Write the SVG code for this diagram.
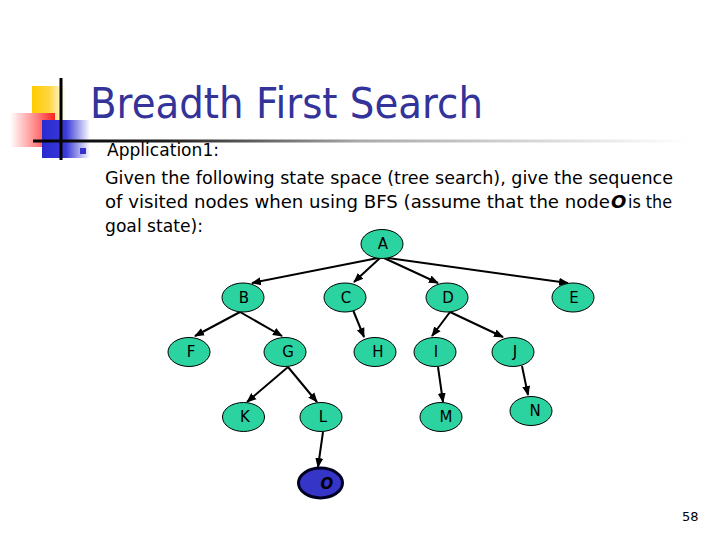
<svg xmlns="http://www.w3.org/2000/svg" width="720" height="540" viewBox="0 0 720 540">
<defs>
<linearGradient id="gy" x1="0" y1="0" x2="1" y2="0"><stop offset="0" stop-color="#ffcc00"/><stop offset="0.5" stop-color="#ffd640"/><stop offset="1" stop-color="#ffffff"/></linearGradient>
<linearGradient id="gr" x1="0" y1="0" x2="1" y2="0"><stop offset="0" stop-color="#ffffff"/><stop offset="0.6" stop-color="#ff8080"/><stop offset="1" stop-color="#ff2020"/></linearGradient>
<linearGradient id="gb" x1="0" y1="0" x2="1" y2="0"><stop offset="0" stop-color="#2a2ad0"/><stop offset="0.5" stop-color="#3a3ad8"/><stop offset="1" stop-color="#ffffff"/></linearGradient>
<linearGradient id="gl" gradientUnits="userSpaceOnUse" x1="33" y1="0" x2="690" y2="0"><stop offset="0" stop-color="#000000"/><stop offset="0.2" stop-color="#202020"/><stop offset="0.5" stop-color="#aaaaaa"/><stop offset="1" stop-color="#ffffff"/></linearGradient>
<marker id="arr" markerUnits="userSpaceOnUse" markerWidth="10" markerHeight="10" viewBox="0 0 10 10" refX="9" refY="5" orient="auto"><path d="M0,1 L10,5 L0,9 z" fill="#000"/></marker>
</defs>
<style>
.n ellipse{fill:#2ad3a0;stroke:#000;stroke-width:1}
.n text{font-family:"DejaVu Sans",Verdana,sans-serif;font-size:15px;fill:#000;text-anchor:middle}
.e line{stroke:#000;stroke-width:2;marker-end:url(#arr)}
.b{font-family:"DejaVu Sans",Tahoma,sans-serif;font-size:18px;fill:#000}
</style>
<rect width="720" height="540" fill="#fff"/>
<g id="logo">
<rect x="32" y="86" width="34" height="34" fill="url(#gy)"/>
<rect x="10" y="113" width="45" height="34" fill="url(#gr)"/>
<rect x="42" y="120" width="48" height="38" fill="url(#gb)"/>
<line x1="61" y1="78" x2="61" y2="160" stroke="#000" stroke-width="3"/>
<line x1="33" y1="141" x2="690" y2="141" stroke="url(#gl)" stroke-width="3"/>
</g>
<text x="90" y="118" font-family="DejaVu Sans,Tahoma,sans-serif" font-size="42" fill="#333399" textLength="393" lengthAdjust="spacingAndGlyphs">Breadth First Search</text>
<rect x="80" y="148" width="6" height="6" fill="#3333cc"/>
<text class="b" x="107" y="156" textLength="112" lengthAdjust="spacingAndGlyphs">Application1:</text>
<text class="b" x="105" y="184" textLength="568" lengthAdjust="spacingAndGlyphs">Given the following state space (tree search), give the sequence</text>
<text class="b" x="105" y="208" textLength="505" lengthAdjust="spacingAndGlyphs">of visited nodes when using BFS (assume that the node</text>
<text class="b" x="611" y="208" font-weight="bold" font-style="italic">O</text>
<text class="b" x="628" y="208" textLength="44" lengthAdjust="spacingAndGlyphs">is the</text>
<text class="b" x="105" y="232" textLength="98" lengthAdjust="spacingAndGlyphs">goal state):</text>
<g class="e" id="edges">
<line x1="378" y1="258" x2="252" y2="283"/>
<line x1="380" y1="258" x2="354" y2="282"/>
<line x1="384" y1="258" x2="438" y2="283"/>
<line x1="388" y1="258" x2="568" y2="283"/>
<line x1="240" y1="312" x2="195" y2="336"/>
<line x1="240" y1="312" x2="282" y2="336"/>
<line x1="353" y1="310" x2="364" y2="337"/>
<line x1="450" y1="312" x2="432" y2="336"/>
<line x1="450" y1="312" x2="503" y2="337"/>
<line x1="288" y1="367" x2="247" y2="402"/>
<line x1="288" y1="367" x2="317" y2="402"/>
<line x1="438" y1="367" x2="443" y2="402"/>
<line x1="522" y1="366" x2="528" y2="395"/>
<line x1="323" y1="432" x2="318" y2="467"/>
</g>
<g class="n" id="A"><ellipse cx="382" cy="244" rx="21" ry="14.5"/><text x="383" y="249">A</text></g>
<g class="n" id="B"><ellipse cx="243" cy="297.5" rx="21" ry="14.5"/><text x="244" y="303">B</text></g>
<g class="n" id="C"><ellipse cx="345" cy="297.5" rx="21" ry="14.5"/><text x="346" y="303">C</text></g>
<g class="n" id="D"><ellipse cx="447" cy="297.5" rx="21" ry="14.5"/><text x="448" y="303">D</text></g>
<g class="n" id="E"><ellipse cx="573" cy="297.5" rx="21" ry="14.5"/><text x="574" y="303">E</text></g>
<g class="n" id="F"><ellipse cx="189" cy="352" rx="21" ry="14.5"/><text x="191" y="357">F</text></g>
<g class="n" id="G"><ellipse cx="285" cy="352" rx="21" ry="14.5"/><text x="288" y="357">G</text></g>
<g class="n" id="H"><ellipse cx="375" cy="352" rx="21" ry="14.5"/><text x="378" y="357">H</text></g>
<g class="n" id="I"><ellipse cx="435" cy="352" rx="21" ry="14.5"/><text x="436" y="357">I</text></g>
<g class="n" id="J"><ellipse cx="513" cy="352" rx="21" ry="14.5"/><text x="515" y="357">J</text></g>
<g class="n" id="K"><ellipse cx="243.5" cy="417" rx="21" ry="14.5"/><text x="245" y="422">K</text></g>
<g class="n" id="L"><ellipse cx="321" cy="417" rx="21" ry="14.5"/><text x="323" y="422">L</text></g>
<g class="n" id="M"><ellipse cx="441" cy="417" rx="21" ry="14.5"/><text x="446" y="422">M</text></g>
<g class="n" id="N"><ellipse cx="531" cy="411" rx="21" ry="14.5"/><text x="535" y="416">N</text></g>
<g id="O"><ellipse cx="320.5" cy="483" rx="22" ry="15" fill="#3535c8" stroke="#000022" stroke-width="3"/><text x="327" y="489" font-family="DejaVu Sans,Verdana,sans-serif" font-size="15" font-weight="bold" font-style="italic" fill="#000" text-anchor="middle">O</text></g>
<text x="682" y="521" font-family="DejaVu Sans,sans-serif" font-size="13" fill="#000">58</text>
</svg>
